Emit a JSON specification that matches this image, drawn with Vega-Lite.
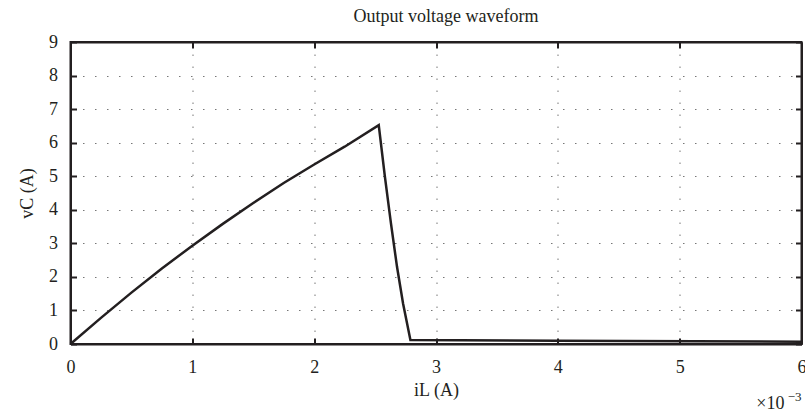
{
  "$schema": "https://vega.github.io/schema/vega-lite/v6.json",
  "width": 731,
  "height": 302,
  "autosize": {"type": "none"},
  "padding": {"left": 70.5, "top": 42, "right": 3.5, "bottom": 69},
  "background": "white",
  "config": {
    "font": "Liberation Serif",
    "view": {"stroke": "#231f20", "strokeWidth": 2},
    "axis": {
      "domainColor": "#231f20",
      "domainWidth": 2,
      "tickColor": "#231f20",
      "tickWidth": 2,
      "tickSize": -6,
      "labelFont": "Liberation Serif",
      "labelFontSize": 18,
      "labelColor": "#231f20",
      "labelFlush": false,
      "titleFont": "Liberation Serif",
      "titleFontSize": 18,
      "titleFontWeight": "normal",
      "titleColor": "#231f20",
      "gridColor": "#777777",
      "gridDash": [1.5, 10.5],
      "gridWidth": 1
    },
    "title": {"font": "Liberation Serif", "fontSize": 18, "fontWeight": "normal", "color": "#231f20"}
  },
  "title": {"text": "Output voltage waveform", "offset": 7, "dx": 10},
  "data": {
    "values": [
      {"iL": 0, "vC": 0},
      {"iL": 0.25, "vC": 0.78},
      {"iL": 0.5, "vC": 1.53},
      {"iL": 0.75, "vC": 2.25},
      {"iL": 1.0, "vC": 2.93},
      {"iL": 1.25, "vC": 3.58},
      {"iL": 1.5, "vC": 4.2},
      {"iL": 1.75, "vC": 4.8},
      {"iL": 2.0, "vC": 5.35},
      {"iL": 2.25, "vC": 5.88},
      {"iL": 2.53, "vC": 6.52},
      {"iL": 2.58, "vC": 5.0},
      {"iL": 2.63, "vC": 3.6},
      {"iL": 2.68, "vC": 2.3},
      {"iL": 2.73, "vC": 1.2},
      {"iL": 2.79, "vC": 0.12},
      {"iL": 4.0, "vC": 0.1},
      {"iL": 6.0, "vC": 0.07}
    ]
  },
  "layer": [
    {
      "mark": {"type": "line", "color": "#231f20", "strokeWidth": 2.5},
      "encoding": {
        "x": {"field": "iL", "type": "quantitative", "scale": {"domain": [0, 6], "nice": false},
              "axis": {"title": "iL (A)", "tickCount": 6, "grid": true, "labelPadding": 20, "titlePadding": 5}},
        "y": {"field": "vC", "type": "quantitative", "scale": {"domain": [0, 9], "nice": false},
              "axis": {"title": "vC (A)", "tickCount": 9, "grid": true, "labelPadding": 19, "titlePadding": 12}}
      }
    },
    {
      "mark": {"type": "line", "opacity": 0},
      "encoding": {
        "x": {"field": "iL", "type": "quantitative", "scale": {"domain": [0, 6], "nice": false},
              "axis": {"orient": "top", "title": null, "labels": false, "tickCount": 6, "grid": false}},
        "y": {"field": "vC", "type": "quantitative", "scale": {"domain": [0, 9], "nice": false},
              "axis": {"orient": "right", "title": null, "labels": false, "tickCount": 9, "grid": false}}
      }
    },
    {
      "data": {"values": [{"iL": 6, "vC": 0, "label": "×10"}]},
      "mark": {"type": "text", "align": "right", "baseline": "top", "dy": 51, "dx": -17, "fontSize": 18, "color": "#231f20", "font": "Liberation Serif"},
      "encoding": {
        "x": {"field": "iL", "type": "quantitative", "axis": null},
        "y": {"field": "vC", "type": "quantitative", "axis": null},
        "text": {"field": "label"}
      }
    },
    {
      "data": {"values": [{"iL": 6, "vC": 0, "label": "−3"}]},
      "mark": {"type": "text", "align": "right", "baseline": "top", "dy": 47, "dx": 0, "fontSize": 13, "color": "#231f20", "font": "Liberation Serif"},
      "encoding": {
        "x": {"field": "iL", "type": "quantitative", "axis": null},
        "y": {"field": "vC", "type": "quantitative", "axis": null},
        "text": {"field": "label"}
      }
    }
  ],
  "resolve": {"axis": {"x": "independent", "y": "independent"}}
}
